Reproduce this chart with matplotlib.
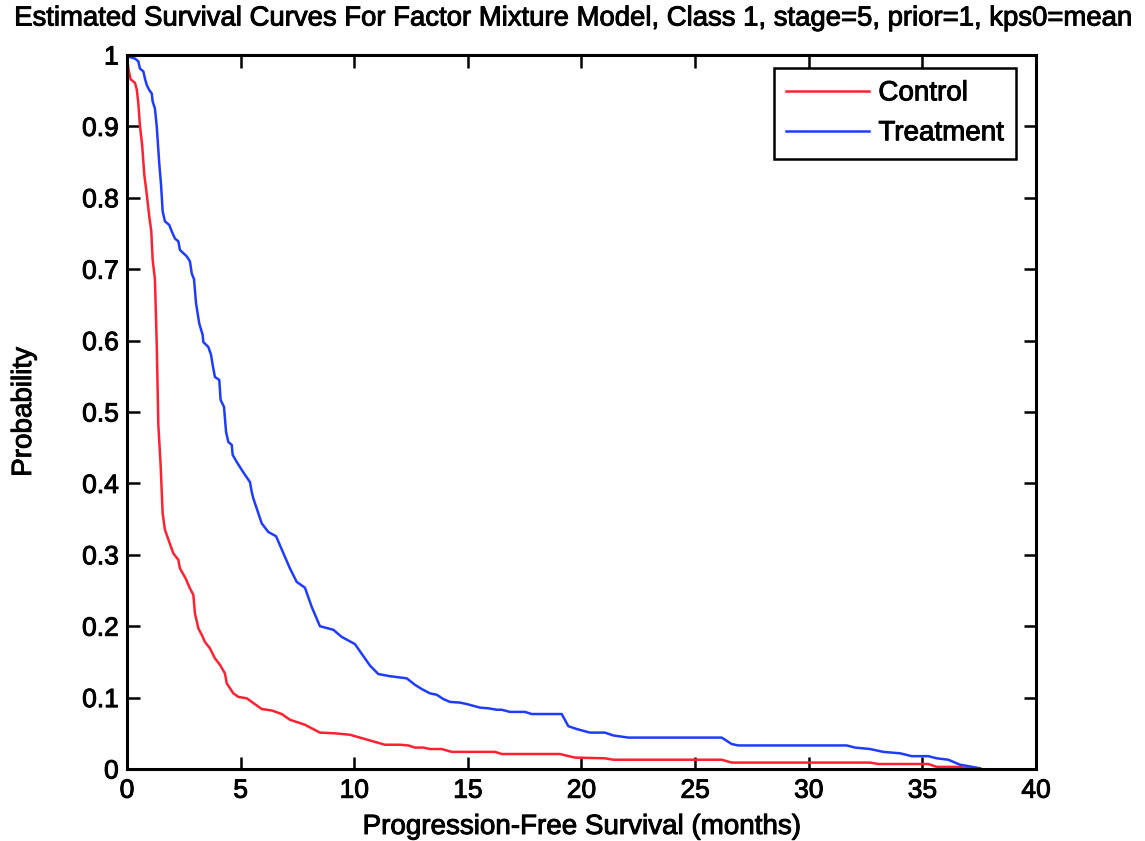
import matplotlib
matplotlib.use("Agg")
import matplotlib.pyplot as plt
import matplotlib.patheffects as pe

plt.rcParams['font.family'] = ['Liberation Sans', 'DejaVu Sans']

# Estimated survival curves (months, probability)
control_t = [0.0, 0.06, 0.16, 0.35, 0.43, 0.50, 0.57, 0.67, 0.76, 0.87, 0.98, 1.07,
             1.13, 1.23, 1.31, 1.38, 1.48, 1.57, 1.67, 1.86, 2.04, 2.26, 2.33, 2.58,
             2.77, 2.92, 2.99, 3.14, 3.29, 3.43, 3.65, 3.87, 4.09, 4.31, 4.39, 4.68,
             4.90, 5.27, 5.93, 6.37, 6.81, 7.17, 7.83, 8.49, 9.15, 9.81, 11.35, 12.01,
             12.38, 12.67, 13.04, 13.33, 13.85, 14.29, 16.19, 16.49, 19.05, 19.71,
             21.03, 21.40, 26.17, 26.61, 32.70, 33.06, 35.26, 35.63, 36.66, 36.95, 37.54]
control_s = [1.000, 0.981, 0.966, 0.961, 0.952, 0.932, 0.901, 0.873, 0.833, 0.805, 0.774,
             0.753, 0.713, 0.686, 0.594, 0.482, 0.426, 0.358, 0.335, 0.318, 0.302, 0.293,
             0.281, 0.267, 0.253, 0.244, 0.218, 0.197, 0.188, 0.178, 0.169, 0.155, 0.146,
             0.134, 0.120, 0.106, 0.101, 0.099, 0.084, 0.082, 0.077, 0.069, 0.062, 0.051,
             0.050, 0.048, 0.034, 0.034, 0.033, 0.030, 0.030, 0.028, 0.028, 0.024, 0.024,
             0.021, 0.021, 0.016, 0.015, 0.013, 0.013, 0.009, 0.009, 0.007, 0.007, 0.003,
             0.003, 0.001, 0.000]

treatment_t = [0.0, 0.13, 0.35, 0.50, 0.57, 0.72, 0.79, 0.87, 0.98, 1.09, 1.13, 1.23,
               1.31, 1.42, 1.50, 1.57, 1.67, 1.86, 1.97, 2.11, 2.26, 2.33, 2.63, 2.77,
               2.85, 2.95, 3.04, 3.18, 3.33, 3.36, 3.58, 3.70, 3.77, 3.87, 4.06, 4.12,
               4.27, 4.36, 4.46, 4.61, 4.65, 4.83, 4.97, 5.15, 5.41, 5.49, 5.56, 5.93,
               6.22, 6.56, 7.17, 7.47, 7.83, 8.13, 8.49, 9.08, 9.45, 10.03, 10.69, 11.06,
               11.57, 12.31, 12.67, 12.97, 13.33, 13.63, 13.92, 14.21, 14.65, 14.95,
               15.53, 15.90, 16.27, 16.49, 16.85, 17.51, 17.81, 19.13, 19.42, 19.79,
               20.37, 21.03, 21.40, 22.06, 26.17, 26.61, 26.90, 31.67, 32.04, 32.70,
               33.28, 34.02, 34.53, 35.26, 35.63, 36.14, 36.66, 37.02, 37.54]
treatment_s = [1.000, 0.997, 0.995, 0.991, 0.981, 0.977, 0.967, 0.958, 0.951, 0.946, 0.935,
               0.925, 0.900, 0.848, 0.818, 0.781, 0.767, 0.762, 0.753, 0.743, 0.739, 0.727,
               0.718, 0.711, 0.694, 0.686, 0.652, 0.624, 0.608, 0.598, 0.591, 0.580, 0.566,
               0.549, 0.545, 0.517, 0.507, 0.472, 0.458, 0.454, 0.440, 0.430, 0.423, 0.414,
               0.402, 0.388, 0.379, 0.344, 0.332, 0.326, 0.281, 0.262, 0.254, 0.227, 0.200,
               0.195, 0.185, 0.175, 0.145, 0.133, 0.130, 0.127, 0.118, 0.112, 0.106, 0.104,
               0.098, 0.094, 0.093, 0.091, 0.086, 0.085, 0.083, 0.083, 0.080, 0.080, 0.077,
               0.077, 0.060, 0.056, 0.051, 0.051, 0.047, 0.044, 0.044, 0.035, 0.033, 0.033,
               0.030, 0.028, 0.024, 0.022, 0.018, 0.018, 0.015, 0.013, 0.006, 0.004, 0.001]

x_ticks = [0, 5, 10, 15, 20, 25, 30, 35, 40]
y_ticks = [0, 0.1, 0.2, 0.3, 0.4, 0.5, 0.6, 0.7, 0.8, 0.9, 1]
y_tick_labels = ['0', '0.1', '0.2', '0.3', '0.4', '0.5', '0.6', '0.7', '0.8', '0.9', '1']

# slightly heavier glyphs for all text
heavy = [pe.withStroke(linewidth=0.7, foreground='black')]

fig = plt.figure(figsize=(11.45, 8.41), dpi=100)
ax = fig.add_axes([0.1109, 0.0856, 0.7939, 0.8490])

ax.plot(control_t, control_s, color='#ff2030', lw=1.8, label='Control')
ax.plot(treatment_t, treatment_s, color='#1e3cff', lw=1.8, label='Treatment')

ax.set_xlim(0, 40)
ax.set_ylim(0, 1)
ax.set_xticks(x_ticks)
ax.set_xticklabels([str(v) for v in x_ticks])
ax.set_yticks(y_ticks)
ax.set_yticklabels(y_tick_labels)
ax.tick_params(direction='in', length=9, width=1.8, labelsize=19, top=True, right=True)
ax.tick_params(axis='x', pad=7)
ax.tick_params(axis='y', pad=6)
for sp in ax.spines.values():
    sp.set_linewidth(2.2)
for lbl in ax.get_xticklabels() + ax.get_yticklabels():
    lbl.set_path_effects(heavy)

xl = ax.set_xlabel('Progression-Free Survival (months)', fontsize=20)
yl = ax.set_ylabel('Probability', fontsize=20)
ax.xaxis.set_label_coords(0.5, -0.063)
ax.yaxis.set_label_coords(-0.099, 0.5)

# title centred on the whole figure
ttl = fig.text(0.5, 0.978, 'Estimated Survival Curves For Factor Mixture Model, Class 1, stage=5, prior=1, kps0=mean',
               fontsize=19.8, ha='center', va='center')
for t in (xl, yl, ttl):
    t.set_path_effects(heavy)

leg = ax.legend(loc='upper right', fontsize=20, fancybox=False, framealpha=1,
                edgecolor='black', borderpad=0.45, handlelength=3.0, handletextpad=0.32,
                labelspacing=0.5, borderaxespad=0, bbox_to_anchor=(0.978, 0.982))
leg.get_frame().set_linewidth(1.8)
for t in leg.get_texts():
    t.set_path_effects(heavy)

fig.savefig('out.png', dpi=100)
